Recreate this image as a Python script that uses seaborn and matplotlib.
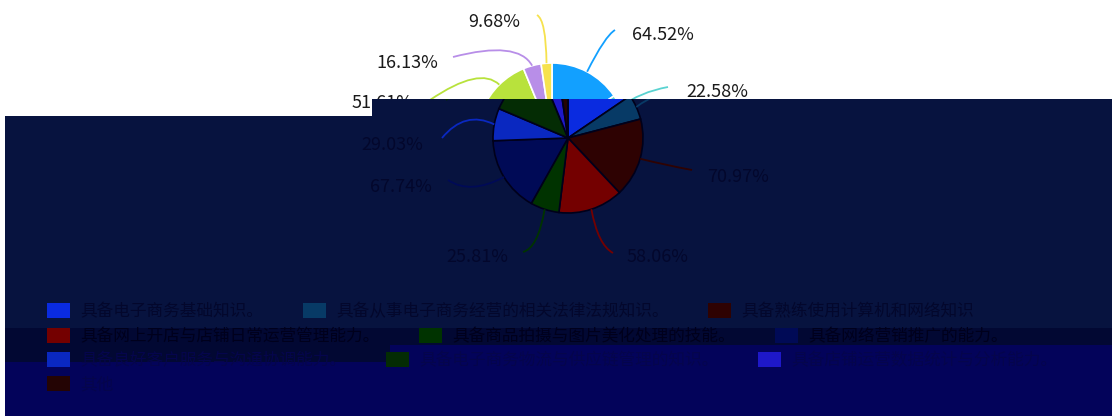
import numpy as np
import matplotlib
matplotlib.use("Agg")
import matplotlib.pyplot as plt
from matplotlib.patches import Polygon, Patch, PathPatch
from matplotlib.path import Path
from matplotlib.legend import Legend
import seaborn as sns

# ---------------- data ----------------
categories = [
    "具备电子商务基础知识。",
    "具备从事电子商务经营的相关法律法规知识。",
    "具备熟练使用计算机和网络知识",
    "具备网上开店与店铺日常运营管理能力。",
    "具备商品拍摄与图片美化处理的技能。",
    "具备网络营销推广的能力。",
    "具备良好客户服务与沟通协调能力。",
    "具备电子商务物流与供应链管理的知识。",
    "具备店铺运营数据统计与分析能力。",
    "其他",
]
values = [64.52, 22.58, 70.97, 58.06, 25.81, 67.74, 29.03, 51.61, 16.13, 9.68]
pct_labels = [f"{v:.2f}%" for v in values]

# colours of the visible (upper) layer and of the darkened (lower) layer
base_colors = ["#12a0ff", "#5ad3d1", "#e0623a", "#ff3b3b", "#3bb54a",
               "#2f4bd8", "#2f6bff", "#b8e23c", "#b88ee8", "#f6e24e"]
dark_colors = ["#0a2be0", "#073a66", "#2e0202", "#740000", "#003300",
               "#000a56", "#0a28c0", "#042c04", "#1e18c8", "#240404"]

# ---------------- style ----------------
sns.set_theme(style="white")
plt.rcParams['font.family'] = ['Noto Sans CJK SC', 'DejaVu Sans']

W, H = 1112, 416
TOP = 99          # top of the dark block (right part)
fig = plt.figure(figsize=(W / 100, H / 100), dpi=100)
ax = fig.add_axes([0, 0, 1, 1])
ax2 = fig.add_axes([0, 0, 1, (H - TOP) / H], zorder=2)
ax2.patch.set_visible(False)

upper_center = (552, 138)
lower_center = (568, 138)
R = 75
LABEL_SPLIT = 110   # labels above belong to the visible layer, below to the dark one

# label layout: (control offset, end offset, text offset, ha) relative to pie centre
layout = [
    ((53, -102), (63, -108), (80, -103), 'left'),
    ((88, -46), (116, -51), (134, -46), 'left'),
    ((97, 27), (124, 32), (139, 39), 'left'),
    ((30, 107), (45, 115), (59, 119), 'left'),
    ((-30, 110), (-45, 114), (-60, 119), 'right'),
    ((-98, 57), (-120, 42), (-136, 49), 'right'),
    ((-103, -28), (-126, 0), (-145, 7), 'right'),
    ((-72, -72), (-122, -38), (-139, -35), 'right'),
    ((-34, -98), (-99, -81), (-114, -75), 'right'),
    ((-6, -118), (-15, -123), (-32, -116), 'right'),
]


def draw_layer(a, center, colors, edgecolor, text_color, zbase, upper):
    wedges, _ = a.pie(values, colors=colors, center=center, radius=R,
                      startangle=-90, counterclock=True,
                      wedgeprops=dict(edgecolor=edgecolor, linewidth=1.2,
                                      zorder=zbase))
    for w in wedges:
        w.set_clip_on(True)
        w.set_clip_path(a.patch)
    cx, cy = center
    for w, lab, col, (c_off, e_off, t_off, ha) in zip(wedges, pct_labels, colors, layout):
        mid = np.deg2rad((w.theta1 + w.theta2) / 2)
        sx, sy = cx + R * np.cos(mid), cy + R * np.sin(mid)
        path = Path([(sx, sy), (cx + c_off[0], cy + c_off[1]), (cx + e_off[0], cy + e_off[1])],
                    [Path.MOVETO, Path.CURVE3, Path.CURVE3])
        pp = PathPatch(path, fill=False, edgecolor=col, linewidth=1.3,
                       zorder=zbase + 0.5)
        a.add_patch(pp)
        pp.set_clip_on(True)
        ty = cy + t_off[1]
        if (ty < LABEL_SPLIT) == upper:
            a.text(cx + t_off[0], ty, lab, ha=ha, va='center', fontsize=13,
                   color=text_color, zorder=zbase + 1, clip_on=True)
    return wedges


# upper (normal) layer
draw_layer(ax, upper_center, base_colors, "white", "#1a1a1a", 2, True)

# dark overlay bands
band_a = [(5, 116), (372, 116), (372, TOP), (1112, TOP), (1112, 328), (5, 328)]
band_b = [(5, 328), (1112, 328), (1112, 345), (390, 345), (390, 362), (5, 362)]
band_c = [(5, 362), (390, 362), (390, 345), (1112, 345), (1112, 416), (5, 416)]
for pts, col in [(band_a, "#07133f"), (band_b, "#020833"), (band_c, "#03035a")]:
    ax.add_patch(Polygon(pts, closed=True, facecolor=col, edgecolor='none', zorder=5))

# lower (darkened) layer, clipped by ax2's extent
draw_layer(ax2, lower_center, dark_colors, "#00001a", "#03072c", 6, False)

# legend rows (flow layout)
rows = [[0, 1, 2], [3, 4, 5], [6, 7, 8], [9]]
row_y = [312, 337, 361, 385]
row_text_colors = ["#03072c", "#00001c", "#05054c", "#05054c"]
for r, yc, tc in zip(rows, row_y, row_text_colors):
    handles = [Patch(facecolor=dark_colors[i], edgecolor='none') for i in r]
    leg = Legend(ax2, handles, [categories[i] for i in r], ncol=len(r),
                 loc='center left', bbox_to_anchor=(47, yc),
                 bbox_transform=ax2.transData, frameon=False, borderpad=0,
                 borderaxespad=0, handlelength=1.38, handleheight=1.0,
                 handletextpad=0.6, columnspacing=2.4, fontsize=12,
                 labelcolor=tc)
    leg.set_zorder(8)
    ax2.add_artist(leg)

ax.set_xlim(0, W)
ax.set_ylim(H, 0)
ax.axis('off')
ax2.set_xlim(0, W)
ax2.set_ylim(H, TOP)
ax2.axis('off')

fig.savefig("out.png", dpi=100, facecolor="white")
